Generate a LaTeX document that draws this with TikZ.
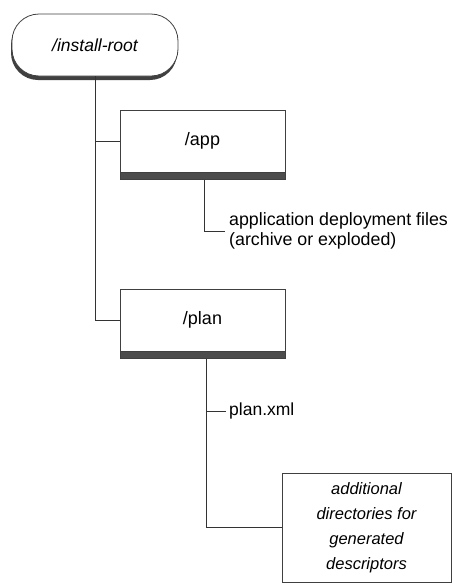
\documentclass[tikz,border=0pt]{standalone}
\usepackage{fontspec}
\setmainfont{Liberation Sans}
\usetikzlibrary{positioning,calc,shadows}

\tikzset{
  dirbox/.style={rectangle,draw=black!75,line width=0.8pt,fill=white,
    minimum width=165pt,minimum height=62pt,inner sep=0pt,font=\fontsize{18}{20}\selectfont},
  bar/.style={rectangle,draw=black!75,fill=black!70,line width=0.5pt,
    minimum width=165pt,minimum height=7pt,inner sep=0pt},
  link/.style={draw=black!80,line width=0.7pt},
  note/.style={inner sep=0pt,align=left,font=\fontsize{17.8}{20}\selectfont}
}

\begin{document}
\begin{tikzpicture}[x=1pt,y=-1pt]
\useasboundingbox (0,0) rectangle (453,584);

\node (root) at (95,45) [dirbox,minimum width=166pt,rounded corners=27pt,
  font=\fontsize{17.5}{20}\selectfont,
  drop shadow={shadow xshift=-1pt,shadow yshift=-4pt,fill=black!75,opacity=1}] {\itshape /install-root};

\node (app) at (202.5,141) [dirbox] {/app};
\node (appbar) [bar,below=0pt of app] {};
\node (appnote) at (229,231) [note,anchor=west] {\strut application deployment files\\\strut(archive or exploded)};

\node (plan) at (202.5,320) [dirbox] {/plan};
\node (planbar) [bar,below=0pt of plan] {};
\node (planxml) at (229,411) [note,anchor=west,font=\fontsize{17.5}{20}\selectfont] {\strut plan.xml};

\node (extra) at (366.5,527.5) [dirbox,minimum width=169pt,minimum height=109pt,
  align=center,font=\fontsize{16.5}{25}\selectfont\itshape,
  drop shadow={shadow xshift=1pt,shadow yshift=-1pt,fill=black!60,opacity=1}]
  {additional\\directories for\\generated\\descriptors};

\coordinate (appdrop) at ($(appbar.south)+(2,0)$);
\coordinate (plandrop) at ($(planbar.south)+(4,0)$);

\draw[link] (root.south) |- (app.west);
\draw[link] (root.south) |- (plan.west);
\draw[link] (appdrop) |- ($(appnote.west)+(-4,0)$);
\draw[link] (plandrop) |- ($(planxml.west)+(-3,0)$);
\draw[link] (plandrop) |- (extra.west);

\end{tikzpicture}
\end{document}
